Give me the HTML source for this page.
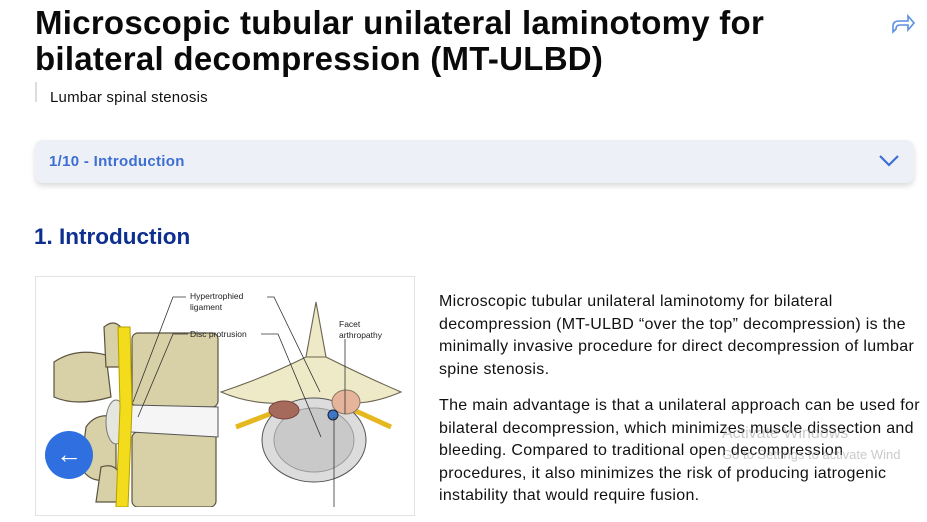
<!DOCTYPE html>
<html><head><meta charset="utf-8"><style>
*{margin:0;padding:0;box-sizing:border-box}
body{width:927px;height:499px;overflow:hidden;background:#fff;font-family:"Liberation Sans",sans-serif;position:relative;color:#111}
h1{position:absolute;left:35px;top:5px;font-size:33px;line-height:36px;font-weight:bold;letter-spacing:0.27px;color:#0a0a0a;width:790px}
.sub{position:absolute;left:35px;top:82px;height:20px;border-left:2px solid #ddd;padding-left:13px;font-size:15px;letter-spacing:0.2px;line-height:31px}
.acc{position:absolute;left:35px;top:140px;width:879px;height:43px;background:#eef0f8;border-radius:8px;box-shadow:0 3px 6px rgba(0,0,0,.15);color:#3c6fd1;font-size:15px;letter-spacing:0.3px;font-weight:bold;line-height:43px;padding-left:14px}
h2{position:absolute;left:34px;top:224px;font-size:22.5px;color:#0d2f8f;font-weight:bold}
.img{position:absolute;left:35px;top:276px;width:380px;height:240px;border:1px solid #e3e3e3;background:#fff}
.txt{position:absolute;left:439px;top:291px;width:482px;font-size:16px;letter-spacing:0.3px;line-height:22.5px;color:#111}
.txt p{margin-bottom:14px}
.fab{position:absolute;left:45px;top:431px;width:48px;height:48px;border-radius:50%;background:#2f6fe0;color:#fff;font-size:26px;text-align:center;line-height:46px}
.wm{position:absolute;left:722px;top:425px;font-size:16px;color:rgba(150,150,150,.5)}
.wm2{position:absolute;left:722px;top:447px;font-size:13px;color:rgba(150,150,150,.5);white-space:nowrap}
</style></head><body>
<h1>Microscopic tubular unilateral laminotomy for bilateral decompression (MT-ULBD)</h1>
<svg style="position:absolute;left:890px;top:13px" width="26" height="22" viewBox="0 0 26 22"><path d="M3 19 V13 Q3 8 9 8 H18 V3 L24 10 L18 17 V12 H10 Q6 12 6 16 Z" fill="none" stroke="#5b8fe0" stroke-width="1.6"/></svg>
<div class="sub">Lumbar spinal stenosis</div>
<div class="acc">1/10 - Introduction<svg style="position:absolute;right:14px;top:14px" width="22" height="14"><path d="M2 2 L11 11 L20 2" fill="none" stroke="#3c6fd1" stroke-width="2.2"/></svg></div>
<h2>1. Introduction</h2>
<div class="img"><svg width="380" height="230" viewBox="0 0 380 230">
<g fill="#d8d0a6" stroke="#5a5440" stroke-width="1.2">
<path d="M18 85 Q40 70 70 78 L75 120 Q40 130 18 120 Z"/>
<path d="M50 150 Q60 135 80 140 L80 200 Q55 210 45 190 Z"/>
<path d="M68 50 Q80 40 88 55 L90 90 L70 90 Z"/>
<path d="M65 190 Q80 185 85 200 L82 225 L60 225 Z"/>
<rect x="96" y="56" width="86" height="74" rx="6"/>
<rect x="96" y="155" width="84" height="75" rx="6"/>
</g>
<path d="M95 128 L182 130 L182 160 L95 155 Z" fill="#f5f5f5" stroke="#555"/>
<ellipse cx="80" cy="145" rx="10" ry="22" fill="#e6e6e0" stroke="#777"/>
<path d="M82 50 L94 50 L96 130 L92 230 L80 230 L84 130 Z" fill="#f2dc1c" stroke="#b3a000"/>
<g fill="#eee9c6" stroke="#6a6450" stroke-width="1.1">
<path d="M185 115 Q230 100 270 80 Q280 70 290 80 Q330 100 365 115 Q330 130 300 125 L260 125 Q220 130 185 115Z"/>
<path d="M270 80 L280 25 L290 80 Z"/>
</g>
<path d="M200 150 L265 125 M300 125 L355 150" stroke="#e6b820" stroke-width="5"/>
<ellipse cx="278" cy="163" rx="52" ry="42" fill="#dcdcdc" stroke="#555"/>
<ellipse cx="278" cy="163" rx="40" ry="32" fill="#c9c9c9" stroke="#999"/>
<ellipse cx="248" cy="133" rx="15" ry="9" fill="#a66a5a" stroke="#744"/>
<ellipse cx="310" cy="125" rx="14" ry="12" fill="#e6b49a" stroke="#876"/>
<circle cx="297" cy="138" r="5" fill="#3e75c4" stroke="#123"/>
<g stroke="#333" fill="none" stroke-width="0.8">
<path d="M150 20 H137 L97 125"/><path d="M152 57 H137 L102 140"/>
<path d="M231 20 H238 L284 115"/><path d="M225 57 H242 L285 160"/><path d="M309 62 V137 M298 140 V230"/>
</g>
<g font-size="8.5" fill="#222" font-family="Liberation Sans,sans-serif">
<text x="154" y="22">Hypertrophied</text><text x="154" y="33">ligament</text>
<text x="154" y="60">Disc protrusion</text>
<text x="303" y="50">Facet</text><text x="303" y="61">arthropathy</text>
</g></svg></div>
<div class="fab">←</div>
<div class="txt"><p>Microscopic tubular unilateral laminotomy for bilateral decompression (MT-ULBD “over the top” decompression) is the minimally invasive procedure for direct decompression of lumbar spine stenosis.</p>
<p>The main advantage is that a unilateral approach can be used for bilateral decompression, which minimizes muscle dissection and bleeding. Compared to traditional open decompression procedures, it also minimizes the risk of producing iatrogenic instability that would require fusion.</p></div>
<div class="wm">Activate Windows</div>
<div class="wm2">Go to Settings to activate Wind</div>
</body></html>
